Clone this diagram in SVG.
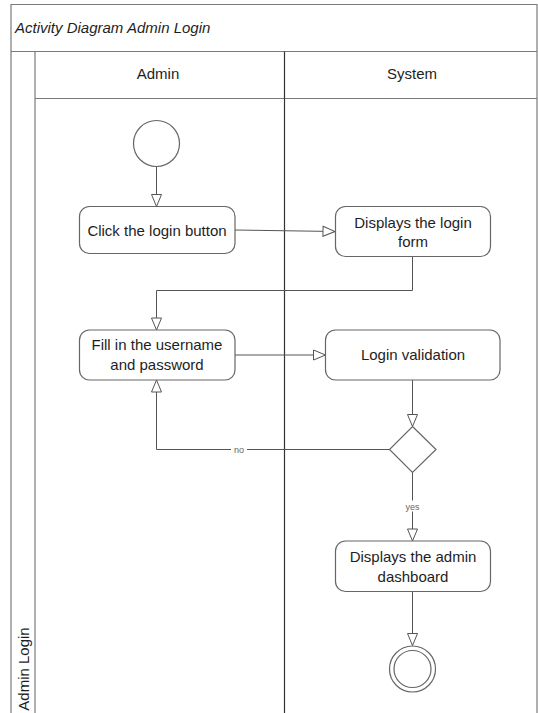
<svg xmlns="http://www.w3.org/2000/svg" width="538" height="713" viewBox="0 0 538 713">
  <style>
    .frame { fill: none; stroke: #7a7a7a; stroke-width: 1.2; }
    .divider { stroke: #333; stroke-width: 1.2; }
    .act { fill: #fff; stroke: #666; stroke-width: 1.2; }
    .node-fill { fill: #fff; stroke: #666; stroke-width: 1.2; }
    .lbl { font-family: "Liberation Sans", Arial, sans-serif; font-size: 15px; fill: #1e1e1e; text-anchor: middle; }
    .title { font-family: "Liberation Sans", Arial, sans-serif; font-size: 15px; font-style: italic; fill: #1e1e1e; }
    .small { font-family: "Liberation Sans", Arial, sans-serif; font-size: 9px; fill: #666; text-anchor: middle; }
    .edge { fill: none; stroke: #555; stroke-width: 1; }
  </style>
  <defs>
    <marker id="open" viewBox="0 0 14 12" refX="13" refY="6" markerWidth="14" markerHeight="12" markerUnits="userSpaceOnUse" orient="auto">
      <path d="M1,1 L13,6 L1,11 Z" fill="#fff" stroke="#555" stroke-width="1"/>
    </marker>
  </defs>

  <rect x="0" y="0" width="538" height="713" fill="#fff"/>

  <!-- swimlane frame -->
  <g id="frame">
    <path class="frame" d="M11,713 V4.5 H537 V713"/>
    <line class="frame" x1="11" y1="51.5" x2="537" y2="51.5"/>
    <line class="frame" x1="35" y1="51.5" x2="35" y2="713"/>
    <line class="frame" x1="35" y1="98.5" x2="537" y2="98.5"/>
    <line class="divider" x1="284.5" y1="51.5" x2="284.5" y2="713"/>
    <text class="title" x="15" y="33">Activity Diagram Admin Login</text>
    <text class="lbl" x="158" y="79">Admin</text>
    <text class="lbl" x="412" y="79">System</text>
    <text class="lbl" transform="translate(28.5,669) rotate(-90)">Admin Login</text>
  </g>

  <!-- connectors -->
  <g id="connectors">
    <line class="edge" x1="156.5" y1="166.5" x2="156.5" y2="206.5" marker-end="url(#open)"/>
    <line class="edge" x1="235" y1="230" x2="335" y2="231.5" marker-end="url(#open)"/>
    <path class="edge" d="M412.5,256.5 V290.5 H156.5 V330" marker-end="url(#open)"/>
    <line class="edge" x1="235" y1="355" x2="325.5" y2="355" marker-end="url(#open)"/>
    <line class="edge" x1="412.5" y1="380" x2="412.5" y2="426.5" marker-end="url(#open)"/>
    <path class="edge" d="M390,449.5 H156.5 V380" marker-end="url(#open)"/>
    <rect x="231" y="444" width="16" height="10" fill="#fff"/>
    <text class="small" x="239" y="452.5">no</text>
    <line class="edge" x1="412.5" y1="472.5" x2="412.5" y2="541" marker-end="url(#open)"/>
    <rect x="402" y="500.5" width="21" height="11" fill="#fff"/>
    <text class="small" x="412.5" y="509.5">yes</text>
    <line class="edge" x1="412.5" y1="591.5" x2="412.5" y2="645.5" marker-end="url(#open)"/>
  </g>

  <!-- nodes -->
  <g id="start">
    <circle class="node-fill" cx="156.5" cy="143.5" r="23"/>
  </g>
  <g id="click-login">
    <rect class="act" x="79.5" y="206.5" width="155.5" height="47" rx="10"/>
    <text class="lbl" x="157" y="235.5">Click the login button</text>
  </g>
  <g id="show-form">
    <rect class="act" x="335.5" y="206.5" width="155" height="50" rx="10"/>
    <text class="lbl" x="413" y="228">Displays the login</text>
    <text class="lbl" x="413" y="247">form</text>
  </g>
  <g id="fill-credentials">
    <rect class="act" x="79.5" y="330" width="155.5" height="50" rx="10"/>
    <text class="lbl" x="157" y="350">Fill in the username</text>
    <text class="lbl" x="157" y="370">and password</text>
  </g>
  <g id="validate">
    <rect class="act" x="325.5" y="330" width="174.5" height="50" rx="10"/>
    <text class="lbl" x="413" y="360">Login validation</text>
  </g>
  <g id="decision">
    <path class="node-fill" d="M412.5,426.5 L436,449.5 L412.5,472.5 L389.5,449.5 Z"/>
  </g>
  <g id="dashboard">
    <rect class="act" x="335.5" y="541" width="155" height="50.5" rx="10"/>
    <text class="lbl" x="413" y="562">Displays the admin</text>
    <text class="lbl" x="413" y="582">dashboard</text>
  </g>
  <g id="end">
    <circle class="node-fill" cx="412.5" cy="669" r="23"/>
    <circle class="node-fill" cx="412.5" cy="669" r="18.5"/>
  </g>
</svg>
